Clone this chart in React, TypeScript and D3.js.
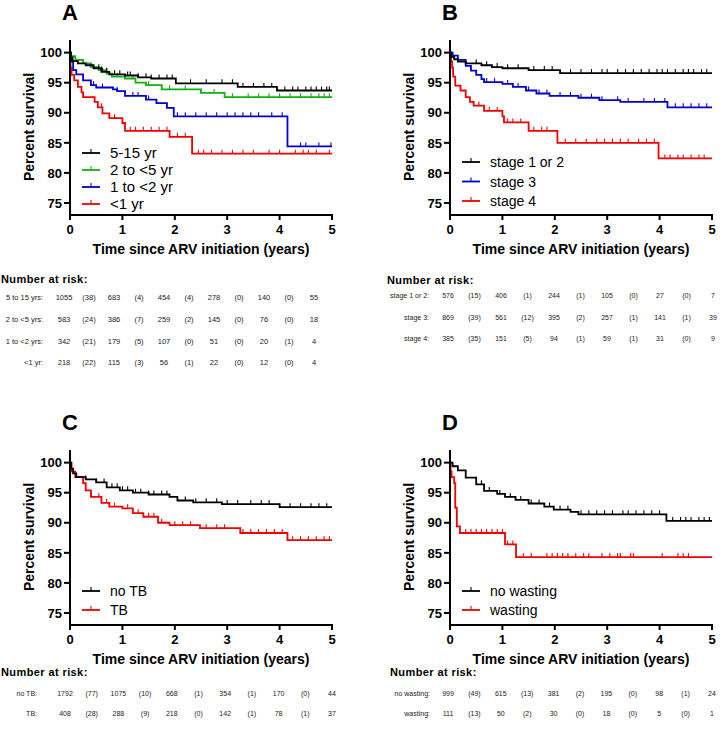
import React from 'react'
import * as d3 from 'd3'

const FONT = "Arial, 'Liberation Sans', Helvetica, sans-serif"
const BLACK = '#000000', GREEN = '#12b012', BLUE = '#0000d0', RED = '#f00000'

const years = [0, 1, 2, 3, 4, 5]
const yTicks = [75, 80, 85, 90, 95, 100]

// ---- panel A: age group
const ageNames = ['5-15 yr', '2 to <5 yr', '1 to <2 yr', '<1 yr']
const ageColors = [BLACK, GREEN, BLUE, RED]
const ageSteps = [
  [[0.02,99.2],[0.05,98.6],[0.15,98.2],[0.3,97.9],[0.45,97.4],[0.6,96.8],[0.75,96.4],[1.05,96.2],[1.3,95.9],[1.55,95.7],[2.02,94.9],[3.2,94.3],[3.95,93.7]],
  [[0.02,99.4],[0.1,98.8],[0.25,98.2],[0.4,97.6],[0.55,97.1],[0.7,96.5],[0.8,96.0],[1.05,95.7],[1.25,95.0],[1.45,94.6],[1.75,93.9],[2.5,93.3],[2.95,92.6]],
  [[0.02,98.5],[0.06,97.1],[0.12,96.4],[0.25,95.4],[0.4,94.6],[0.5,94.2],[0.82,93.9],[0.9,93.6],[1.05,92.8],[1.45,92.2],[1.65,91.6],[1.85,90.8],[1.98,89.4],[4.15,84.4]],
  [[0.01,97.5],[0.03,96.3],[0.08,95.4],[0.15,94.3],[0.22,93.4],[0.25,92.6],[0.47,91.8],[0.53,90.9],[0.62,89.9],[0.75,89.1],[1.0,88.3],[1.05,87.0],[1.9,86.0],[2.33,83.2]],
]
const ageCensor = [
  [0.55,0.62,0.7,0.85,0.95,1.1,1.15,1.3,1.45,1.55,1.7,1.85,1.95,2.3,2.6,2.9,3.1,3.3,3.5,3.7,3.85,4.1,4.25,4.35,4.5,4.6,4.7,4.8,4.9,4.95],
  [0.4,0.6,0.9,1.2,1.5,1.75,1.9,2.2,2.5,2.75,3.1,3.4,3.6,3.8,4.0,4.2,4.4,4.6,4.75,4.85,4.95],
  [0.45,0.62,0.9,1.2,1.3,1.5,1.65,2.05,2.2,2.4,2.6,2.8,3.0,3.15,3.3,3.45,3.6,3.85,4.05,4.4,4.5,4.75,4.98],
  [0.6,0.85,1.15,1.25,1.4,1.55,1.7,1.85,2.05,2.2,2.45,2.55,2.7,2.9,3.1,3.3,3.5,3.8,4.0,4.3,4.45,4.55,4.7,4.95],
]
const ageRows = ['5 to 15 yrs:', '2 to <5 yrs:', '1 to <2 yrs:', '<1 yr:']
const ageRisk = [[1055,683,454,278,140,55],[583,386,259,145,76,18],[342,179,107,51,20,4],[218,115,56,22,12,4]]
const ageEvents = [[38,4,4,0,0],[24,7,2,0,0],[21,5,0,0,1],[22,3,1,0,0]]

// ---- panel B: WHO stage
const stageNames = ['stage 1 or 2', 'stage 3', 'stage 4']
const stageColors = [BLACK, BLUE, RED]
const stageSteps = [
  [[0.02,99.3],[0.08,98.9],[0.15,98.5],[0.3,98.2],[0.6,97.9],[0.8,97.6],[1.0,97.4],[1.5,97.1],[2.1,96.6]],
  [[0.05,99.5],[0.15,98.8],[0.3,97.8],[0.4,97.0],[0.5,96.3],[0.6,95.6],[0.65,95.1],[1.0,94.8],[1.2,94.3],[1.45,93.7],[1.65,93.2],[1.9,92.8],[2.45,92.5],[2.85,92.1],[3.25,91.8],[4.15,90.9]],
  [[0.02,98.5],[0.04,97.5],[0.06,96.0],[0.1,94.5],[0.2,93.7],[0.3,92.6],[0.38,91.8],[0.45,91.2],[0.65,90.3],[1.0,89.4],[1.03,88.4],[1.5,87.0],[2.05,85.0],[3.98,82.4]],
]
const stageCensor = [
  [0.5,0.7,0.9,1.1,1.3,1.6,1.8,1.95,2.3,2.5,2.7,2.9,3.0,3.2,3.35,3.5,3.65,3.8,3.95,4.05,4.15,4.3,4.45,4.55,4.65,4.8,4.9],
  [0.7,0.85,1.1,1.3,1.5,1.7,1.85,2.1,2.3,2.5,2.7,2.9,3.2,3.4,3.7,3.9,4.1,4.3,4.45,4.6,4.75,4.9],
  [0.45,0.55,0.75,0.9,1.1,1.2,1.35,1.6,1.75,1.85,2.2,2.4,2.6,2.8,2.95,3.1,3.25,3.4,3.6,3.75,3.9,4.1,4.2,4.35,4.45,4.6,4.75,4.85],
]
const stageRows = ['stage 1 or 2:', 'stage 3:', 'stage 4:']
const stageRisk = [[576,406,244,105,27,7],[869,561,395,257,141,39],[385,151,94,59,31,9]]
const stageEvents = [[15,1,1,0,0],[39,12,2,1,1],[35,5,1,1,0]]

// ---- panel C: TB
const tbNames = ['no TB', 'TB']
const tbColors = [BLACK, RED]
const tbSteps = [
  [[0.02,99.0],[0.06,98.2],[0.12,97.6],[0.3,97.2],[0.5,96.7],[0.7,95.9],[0.95,95.4],[1.2,95.0],[1.5,94.7],[1.9,94.3],[2.05,93.7],[2.35,93.4],[2.9,93.1],[4.0,92.6]],
  [[0.03,98.5],[0.1,97.6],[0.25,96.6],[0.3,95.4],[0.4,94.3],[0.6,93.3],[0.75,92.7],[1.0,92.4],[1.2,91.6],[1.4,91.0],[1.68,90.0],[1.9,89.6],[2.48,89.1],[3.25,88.3],[4.15,87.1]],
]
const tbCensor = [
  [0.3,0.5,0.65,0.8,0.9,1.0,1.1,1.25,1.35,1.5,1.6,1.75,1.85,2.2,2.4,2.6,2.8,3.0,3.2,3.45,3.65,3.8,4.0,4.2,4.4,4.6,4.75,4.9],
  [0.4,0.55,0.7,0.85,1.1,1.3,1.5,1.6,1.75,2.0,2.15,2.3,2.6,2.8,2.95,3.3,3.45,3.6,3.75,3.9,4.05,4.25,4.4,4.55,4.7,4.85,4.95],
]
const tbRows = ['no TB:', 'TB:']
const tbRisk = [[1792,1075,668,354,170,44],[408,288,218,142,78,37]]
const tbEvents = [[77,10,1,1,0],[28,9,0,1,1]]

// ---- panel D: wasting
const wastNames = ['no wasting', 'wasting']
const wastColors = [BLACK, RED]
const wastSteps = [
  [[0.05,99.4],[0.15,98.7],[0.3,97.5],[0.5,96.4],[0.65,95.3],[0.9,94.8],[1.05,94.3],[1.25,93.8],[1.5,93.2],[1.8,92.7],[1.98,92.2],[2.3,91.8],[2.45,91.4],[4.13,90.3]],
  [[0.01,98.5],[0.03,97.6],[0.08,96.6],[0.1,92.5],[0.13,89.4],[0.19,88.3],[1.05,86.4],[1.26,84.3]],
]
const wastCensor = [
  [0.6,0.75,0.95,1.15,1.35,1.55,1.7,1.9,2.1,2.25,2.5,2.65,2.8,2.95,3.1,3.3,3.4,3.55,3.7,3.85,4.0,4.25,4.4,4.5,4.6,4.75,4.85,4.95],
  [0.3,0.4,0.5,0.6,0.7,0.8,0.9,1.0,1.1,1.2,1.4,1.55,1.85,1.95,2.05,2.15,2.25,2.4,2.55,2.65,2.9,3.05,3.2,3.25,3.45,3.5,4.05,4.35,4.45,4.55],
]
const wastRows = ['no wasting:', 'wasting:']
const wastRisk = [[999,615,381,195,98,24],[111,50,30,18,5,1]]
const wastEvents = [[49,13,2,0,1],[13,2,0,0,0]]

const panels = [
  { letter:'A', ox:70, oy:0, names:ageNames, colors:ageColors, steps:ageSteps, censor:ageCensor,
    leg:{ y0:153, dy:17, size:15 },
    tab:{ rows:ageRows, risk:ageRisk, events:ageEvents, tx:1, ty:279, lx:43, c0:64, dc:25, ys:[297,319,341,362], fs:7.5 } },
  { letter:'B', ox:450, oy:0, names:stageNames, colors:stageColors, steps:stageSteps, censor:stageCensor,
    leg:{ y0:162, dy:19.5, size:14 },
    tab:{ rows:stageRows, risk:stageRisk, events:stageEvents, tx:387, ty:280, lx:429, c0:448, dc:26.5, ys:[295,317,338], fs:7 } },
  { letter:'C', ox:70, oy:410, names:tbNames, colors:tbColors, steps:tbSteps, censor:tbCensor,
    leg:{ y0:181, dy:19, size:14 },
    tab:{ rows:tbRows, risk:tbRisk, events:tbEvents, tx:1, ty:672, lx:37, c0:65, dc:26.7, ys:[693,713], fs:7 } },
  { letter:'D', ox:450, oy:410, names:wastNames, colors:wastColors, steps:wastSteps, censor:wastCensor,
    leg:{ y0:181, dy:19, size:14 },
    tab:{ rows:wastRows, risk:wastRisk, events:wastEvents, tx:390, ty:672, lx:430, c0:448, dc:26.4, ys:[693,713], fs:7 } },
]

function survAt(steps: number[][], t: number){
  let s = 100
  for (const [ts, v] of steps){ if (ts <= t) s = v; else break }
  return s
}

function Panel({ p }: any){
  const x = d3.scaleLinear().domain([0,5]).range([p.ox, p.ox+262])
  const y = d3.scaleLinear().domain([73,102.1]).range([p.oy+215, p.oy+40])
  const line = d3.line<number[]>().x(d=>x(d[0])).y(d=>y(d[1])).curve(d3.curveStepAfter)
  const order = p.names.map((_: any, i: number)=>i).reverse()
  const t = p.tab
  return (<g fontFamily={FONT}>
    <text x={p.ox-8} y={p.oy+20} fontSize={22} fontWeight="bold">{p.letter}</text>
    {/* curves, black last so it sits on top */}
    {order.map((i: number)=>{
      const st = p.steps[i]
      const pts = [[0,100], ...st, [5, st[st.length-1][1]]]
      return (<g key={i} stroke={p.colors[i]} fill="none">
        <path d={line(pts) as string} strokeWidth={1.8}/>
        {p.censor[i].map((c: number, k: number)=>{
          const yy = y(survAt(st, c))
          return <line key={k} x1={x(c)} x2={x(c)} y1={yy} y2={yy-4} strokeWidth={1.1}/>
        })}
      </g>)
    })}
    {/* axes */}
    <g stroke="#000" strokeWidth={2}>
      <line x1={p.ox} x2={p.ox} y1={y(102.1)} y2={y(73)+1}/>
      <line x1={p.ox-1} x2={x(5)+1} y1={y(73)} y2={y(73)}/>
      {yTicks.map(v=> <line key={v} x1={p.ox-6} x2={p.ox} y1={y(v)} y2={y(v)}/>)}
      {years.map(v=> <line key={v} x1={x(v)} x2={x(v)} y1={y(73)} y2={y(73)+5}/>)}
    </g>
    {yTicks.map(v=> <text key={v} x={p.ox-8} y={y(v)} dy="0.36em" textAnchor="end" fontSize={13} fontWeight="bold">{v}</text>)}
    {years.map(v=> <text key={v} x={x(v)} y={p.oy+234} textAnchor="middle" fontSize={13} fontWeight="bold">{v}</text>)}
    <text x={x(2.5)} y={p.oy+254} textAnchor="middle" fontSize={14} fontWeight="bold">Time since ARV initiation (years)</text>
    <text transform={`translate(${p.ox-36},${p.oy+127}) rotate(-90)`} textAnchor="middle" fontSize={14} fontWeight="bold">Percent survival</text>
    {/* legend */}
    {p.names.map((n: string, i: number)=>{
      const cy = p.oy + p.leg.y0 + i*p.leg.dy
      return (<g key={n}>
        <line x1={p.ox+12} x2={p.ox+30} y1={cy} y2={cy} stroke={p.colors[i]} strokeWidth={1.8}/>
        <line x1={p.ox+21} x2={p.ox+21} y1={cy} y2={cy-4} stroke={p.colors[i]} strokeWidth={1.1}/>
        <text x={p.ox+40} y={cy} dy="0.36em" fontSize={p.leg.size}>{n}</text>
      </g>)
    })}
    {/* number at risk table */}
    <text x={t.tx} y={t.ty} dy="0.36em" fontSize={11} fontWeight="bold" letterSpacing={0.4}>Number at risk:</text>
    {t.rows.map((r: string, ri: number)=>{
      const cells: string[] = []
      t.risk[ri].forEach((v: number, k: number)=>{
        cells.push(String(v))
        if (k < t.events[ri].length) cells.push(`(${t.events[ri][k]})`)
      })
      return (<g key={r} fontSize={t.fs} fill="#222">
        <text x={t.lx} y={t.ys[ri]} dy="0.36em" textAnchor="end">{r}</text>
        {cells.map((c, k)=> <text key={k} x={t.c0 + k*t.dc} y={t.ys[ri]} dy="0.36em" textAnchor="middle">{c}</text>)}
      </g>)
    })}
  </g>)
}

export default function App(){
  return (<svg width={722} height={742} viewBox="0 0 722 742"
    style={{ position:'absolute', left:0, top:0, background:'#fff' }}>
    {panels.map(p=> <Panel key={p.letter} p={p}/>)}
  </svg>)
}
